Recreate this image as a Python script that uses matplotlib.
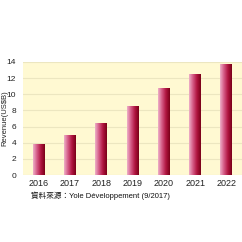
import matplotlib
matplotlib.use("Agg")
import matplotlib.pyplot as plt
import numpy as np
from matplotlib.colors import LinearSegmentedColormap

years = ["2016", "2017", "2018", "2019", "2020", "2021", "2022"]
revenue = [3.9, 5.0, 6.5, 8.6, 10.8, 12.5, 13.8]
yticks = [0, 2, 4, 6, 8, 10, 12, 14]

plt.rcParams['font.family'] = ['Liberation Sans', 'Noto Sans CJK TC', 'DejaVu Sans']

fig = plt.figure(figsize=(2.42, 2.42), dpi=100)
ax = fig.add_axes([23/242, 1-175/242, 219/242, 113/242])
ax.set_facecolor("#fff9d2")

x = np.arange(len(years))
width = 0.38
cmap = LinearSegmentedColormap.from_list("g", ["#eeb0c8", "#d45a85", "#b01540", "#7a0018"])
grad = np.linspace(0, 1, 64).reshape(1, -1)
bars = ax.bar(x, revenue, width=width, color="none", zorder=3)
for b in bars:
    x0, y0 = b.get_x(), b.get_y()
    w, h = b.get_width(), b.get_height()
    im = ax.imshow(grad, cmap=cmap, aspect="auto", extent=[x0, x0 + w, y0, y0 + h], zorder=3)
    im.set_clip_path(b)

ax.set_xlim(-0.5, len(years) - 0.5)
ax.set_ylim(0, 14)
ax.set_xticks(x)
ax.set_xticklabels(years)
ax.set_yticks(yticks)
ax.grid(axis="y", color="#ece6c0", linewidth=0.8, zorder=1)
ax.set_axisbelow(True)
for s in ax.spines.values():
    s.set_visible(False)
ax.tick_params(axis="y", length=0, labelsize=6, colors="#222222", pad=5)
ax.tick_params(axis="x", length=0, labelsize=6.5, colors="#222222", pad=3)
ax.set_ylabel("Revenue(US$B)", fontsize=5.5, color="#222222")
ax.yaxis.set_label_coords(-0.068, 0.5)

fig.text(31/242, 1-196/242, "資料來源：Yole Développement (9/2017)", fontsize=5.5,
         va="center", ha="left", color="#111111")

fig.savefig("out.png", dpi=100, facecolor="white")
